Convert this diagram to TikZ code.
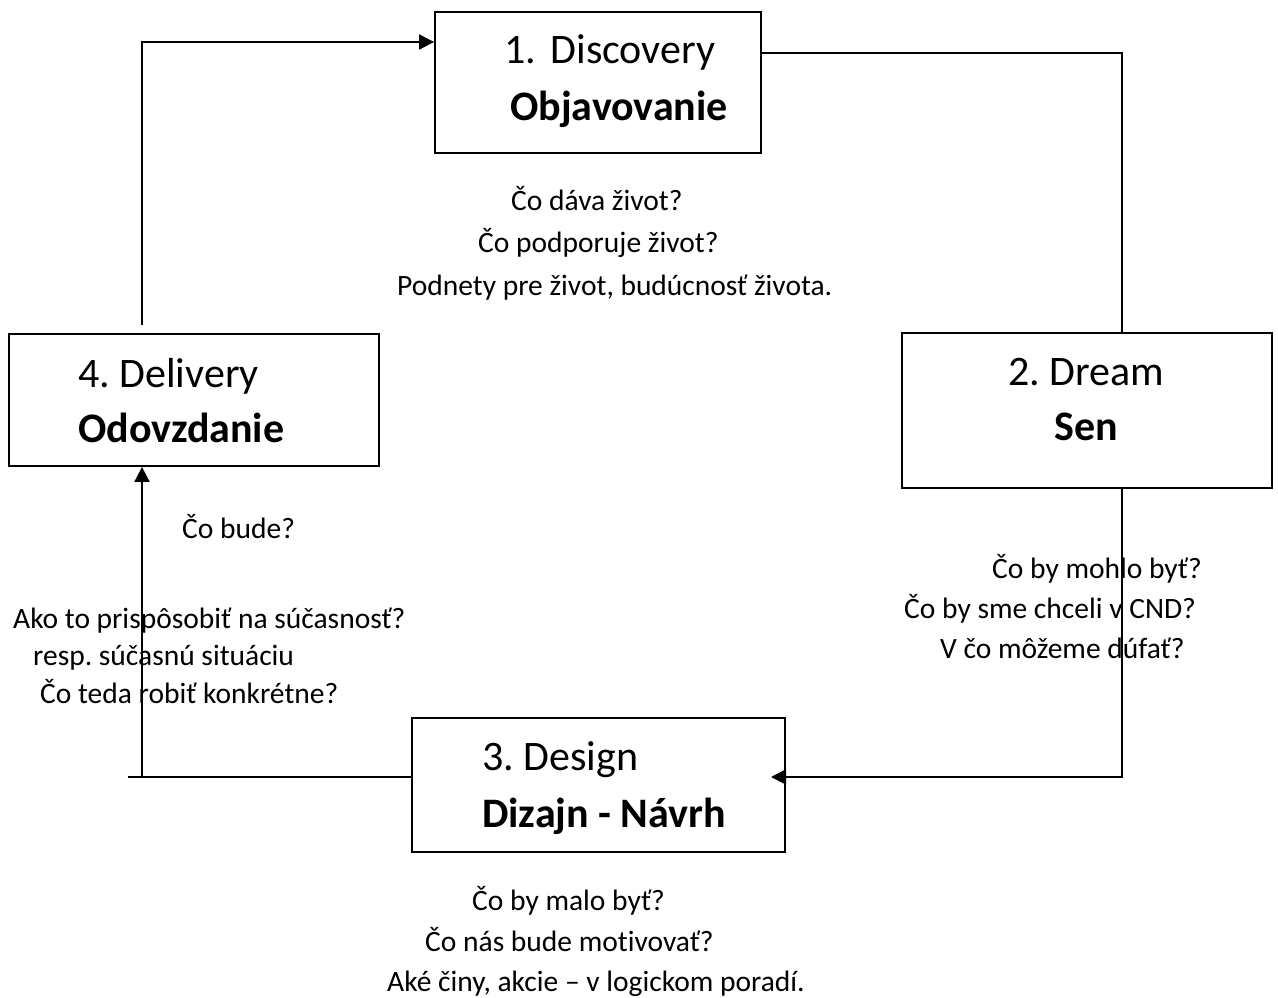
\documentclass[tikz,border=0pt]{standalone}
\usepackage{fontspec}
\setmainfont[Ligatures=NoCommon]{Carlito}
\usetikzlibrary{arrows.meta}
\frenchspacing
\begin{document}
\begin{tikzpicture}[x=1pt,y=-1pt,
  box/.style={draw,line width=1.8pt,inner sep=0pt},
  big/.style={anchor=base west,inner sep=0pt,font=\fontsize{42}{50}\selectfont},
  bigb/.style={anchor=base west,inner sep=0pt,font=\fontsize{42}{50}\selectfont\bfseries},
  small/.style={anchor=base west,inner sep=0pt,font=\fontsize{29.5}{36}\selectfont},
  conn/.style={line width=1.8pt},
  arr/.style={conn,-{Triangle[length=15pt,width=15pt]}}]
\useasboundingbox (0,0) rectangle (1278,997);
% boxes
\node[box,minimum width=326pt,minimum height=141pt] (b1) at (598,82.5) {};
\node[box,minimum width=370pt,minimum height=155pt] (b2) at (1087,410.5) {};
\node[box,minimum width=373pt,minimum height=134pt] (b3) at (598.5,785) {};
\node[box,minimum width=370pt,minimum height=132pt] (b4) at (194,400) {};
% box texts
\node[big]  (t1a) at (504,63)  {1.\hspace{5pt} Discovery};
\node[bigb] (t1b) at (510,120) {Objavovanie};
\node[big]  (t2a) at (1008,385) {2. Dream};
\node[bigb] (t2b) at (1054,440) {Sen};
\node[big]  (t3a) at (482,770) {3. Design};
\node[bigb] (t3b) at (482,827) {Dizajn - Návrh};
\node[big]  (t4a) at (78,387)  {4. Delivery};
\node[bigb] (t4b) at (78,442)  {Odovzdanie};
% questions
\node[small] (q1a) at (511,210) {Čo dáva život?};
\node[small] (q1b) at (478,252) {Čo podporuje život?};
\node[small] (q1c) at (397,295) {Podnety pre život, budúcnosť života.};
\node[small] (q2a) at (992,578) {Čo by mohlo byť?};
\node[small] (q2b) at (904,618) {Čo by sme chceli v CND?};
\node[small] (q2c) at (940,658) {V čo môžeme dúfať?};
\node[small] (q3a) at (472,910) {Čo by malo byť?};
\node[small] (q3b) at (425,951) {Čo nás bude motivovať?};
\node[small] (q3c) at (387,991) {Aké činy, akcie – v logickom poradí.};
\node[small] (q4a) at (182,538) {Čo bude?};
\node[small] (q4b) at (13,628) {Ako to prispôsobiť na súčasnosť?};
\node[small] (q4c) at (33,665) {resp. súčasnú situáciu};
\node[small] (q4d) at (40,703) {Čo teda robiť konkrétne?};
% connector points
\coordinate (p1) at (1122,53);
\coordinate (p2) at (1122,777);
\coordinate (p2end) at (771,777);
\coordinate (p3end) at (128,777);
\coordinate (p3) at (142,777);
\coordinate (p4s) at (142,325);
\coordinate (p4) at (142,42);
% connectors
\draw[conn] (b1.east |- p1) -- (p1) -- (b2.north -| p1);
\draw[arr] (b2.south -| p2) -- (p2) -- (p2end);
\draw[conn] (b3.west |- p2) -- (p3end);
\draw[arr] (p3) -- (b4.south -| p3);
\draw[arr] (p4s) -- (p4) -- (b1.west |- p4);
\end{tikzpicture}
\end{document}
